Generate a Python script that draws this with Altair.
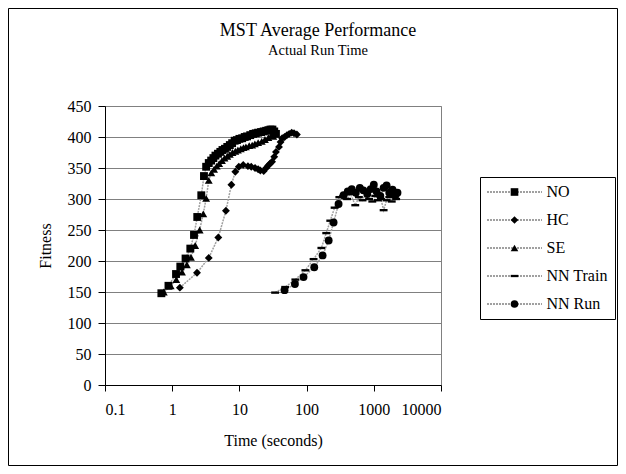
import altair as alt
import pandas as pd

series_names = ["NO", "HC", "SE", "NN Train", "NN Run"]

no_time = [0.69, 0.88, 1.14, 1.32, 1.58, 1.86, 2.11, 2.36, 2.71, 2.97, 3.2, 3.5, 3.8, 4.1, 4.4,
           4.8, 5.2, 5.6, 6.1, 6.6, 7.2, 7.8, 8.5, 9.2, 10, 11, 12, 13, 14.5, 16, 17.5, 19, 21,
           23, 25, 27, 29, 31, 33, 35]
no_fit = [148, 160, 179, 191, 204, 220, 242, 271, 306, 337, 352, 358, 362, 366, 370,
          373, 376, 379, 381, 384, 387, 390, 394, 395, 397, 398, 400, 401, 403, 405, 406, 407, 408,
          409, 410, 411, 412, 412, 409, 405]

hc_time = [1.3, 2.34, 3.5, 4.85, 6.3, 7.6, 8.7, 9.8, 11.4, 13.4, 15, 17.1, 19, 20.5, 23, 25, 26.9,
           28.5, 30.6, 33, 35, 38.8, 41, 43.3, 47, 51, 55, 60, 65, 71.7]
hc_fit = [157, 181, 205, 238, 281, 323, 344, 352, 355, 353, 352, 350, 348, 346, 345, 350, 354,
          357, 360, 368, 376, 384, 392, 398, 400, 403, 405, 407, 406, 404]

se_time = [0.75, 0.95, 1.15, 1.4, 1.65, 1.9, 2.2, 2.56, 2.9, 3.2, 3.5, 3.82, 4.2, 4.6, 5.0, 5.5,
           6.0, 6.6, 7.2, 7.9, 8.7, 9.5, 10.5, 11.5, 12.5, 14, 15.5, 17, 19, 21.5, 24, 27, 30, 32]
se_fit = [150, 160, 170, 182, 194, 206, 225, 250, 276, 301, 330, 342, 348, 353, 357, 362,
          366, 369, 372, 375, 377, 379, 381, 383, 384, 386, 387, 389, 391, 393, 396, 399, 403, 401]

nnt_time = [34, 48, 68, 96, 127, 166, 196, 225, 261, 307, 350, 400, 450, 530, 600, 680, 760, 850,
            950, 1050, 1150, 1280, 1400, 1550, 1700, 1850, 2000, 2150]
nnt_fit = [149, 158, 170, 185, 203, 221, 245, 265, 286, 303, 305, 300, 308, 290, 303, 298, 310, 300,
           296, 305, 298, 300, 282, 298, 303, 296, 305, 300]

nnr_time = [47, 67, 90, 130, 173, 213, 252, 299, 355, 410, 470, 540, 620, 700, 800, 900, 1000,
            1100, 1250, 1400, 1550, 1700, 1900, 2100, 2250]
nnr_fit = [153, 163, 174, 190, 209, 233, 262, 292, 306, 312, 316, 310, 318, 314, 308, 316, 323,
           312, 305, 318, 322, 310, 315, 306, 310]

x_ticks = [0.1, 1, 10, 100, 1000, 10000]
y_ticks = [0, 50, 100, 150, 200, 250, 300, 350, 400, 450]

rows = []
for name, ts, fs in zip(series_names,
                        [no_time, hc_time, se_time, nnt_time, nnr_time],
                        [no_fit, hc_fit, se_fit, nnt_fit, nnr_fit]):
    for i, (t, f) in enumerate(zip(ts, fs)):
        rows.append({"series": name, "time": t, "fitness": f, "idx": i})
df = pd.DataFrame(rows)

FONT = "Liberation Serif"
dash_path = "M-1,-0.3L1,-0.3L1,0.3L-1,0.3Z"

x_enc = alt.X("time:Q", scale=alt.Scale(type="log", domain=[0.1, 10000]),
              axis=alt.Axis(values=x_ticks, format="~f", grid=False, tickSize=6,
                            labelPadding=10, title="Time (seconds)", titlePadding=15))
y_enc = alt.Y("fitness:Q", scale=alt.Scale(domain=[0, 450]),
              axis=alt.Axis(values=y_ticks, grid=True, tickSize=7, labelPadding=7,
                            title="Fitness", titlePadding=14))

common_legend = dict(orient="none", legendX=375, legendY=71, title=None,
                     labelFont=FONT, labelFontSize=16, padding=7, rowPadding=12,
                     symbolOffset=19.5, labelOffset=24)

lines = alt.Chart(df).mark_line(strokeWidth=1.5, strokeDash=[2, 1], color="#a0a0a0").encode(
    x=x_enc, y=y_enc,
    color=alt.Color("series:N",
                    scale=alt.Scale(domain=series_names, range=["#a0a0a0"] * 5),
                    legend=alt.Legend(symbolType="M-5.5,0L5.5,0", symbolSize=100,
                                      symbolStrokeWidth=2, symbolDash=[2, 1],
                                      strokeColor="black", fillColor="white",
                                      labelColor="black", **common_legend)),
    order="idx:Q",
)

points = alt.Chart(df).mark_point(filled=True, size=62, color="black", opacity=1).encode(
    x=x_enc, y=y_enc,
    shape=alt.Shape("series:N",
                    scale=alt.Scale(domain=series_names,
                                    range=["square", "diamond", "triangle-up", dash_path, "circle"]),
                    legend=alt.Legend(symbolSize=58, symbolFillColor="black",
                                      symbolStrokeWidth=0, labelColor="transparent",
                                      **common_legend)),
)

border = alt.Chart(alt.Data(values=[{"a": 1}])).mark_rect(
    fillOpacity=0, stroke="black", strokeWidth=1
).encode(x=alt.value(-96.5), x2=alt.value(512.5), y=alt.value(-97.5), y2=alt.value(359.5))

chart = alt.layer(border, lines, points).resolve_scale(color="independent", shape="independent").properties(
    width=336, height=279,
    autosize="none",
    padding={"left": 97, "top": 98, "right": 177, "bottom": 81},
    title=alt.TitleParams("MST Average Performance", subtitle="Actual Run Time",
                          font=FONT, fontSize=18, fontWeight="normal", color="black",
                          subtitleFont=FONT, subtitleFontSize=14.5, subtitleColor="black",
                          subtitlePadding=4, anchor="middle", dx=45, offset=-49),
).configure(font=FONT).configure_view(
    stroke="#808080", strokeWidth=1
).configure_axis(
    domainColor="black", tickColor="black", gridColor="#808080",
    labelFont=FONT, labelFontSize=16, labelColor="black",
    titleFont=FONT, titleFontSize=16, titleFontWeight="normal", titleColor="black",
)

chart.save("out.html", embed_options={"renderer": "svg", "actions": False})
